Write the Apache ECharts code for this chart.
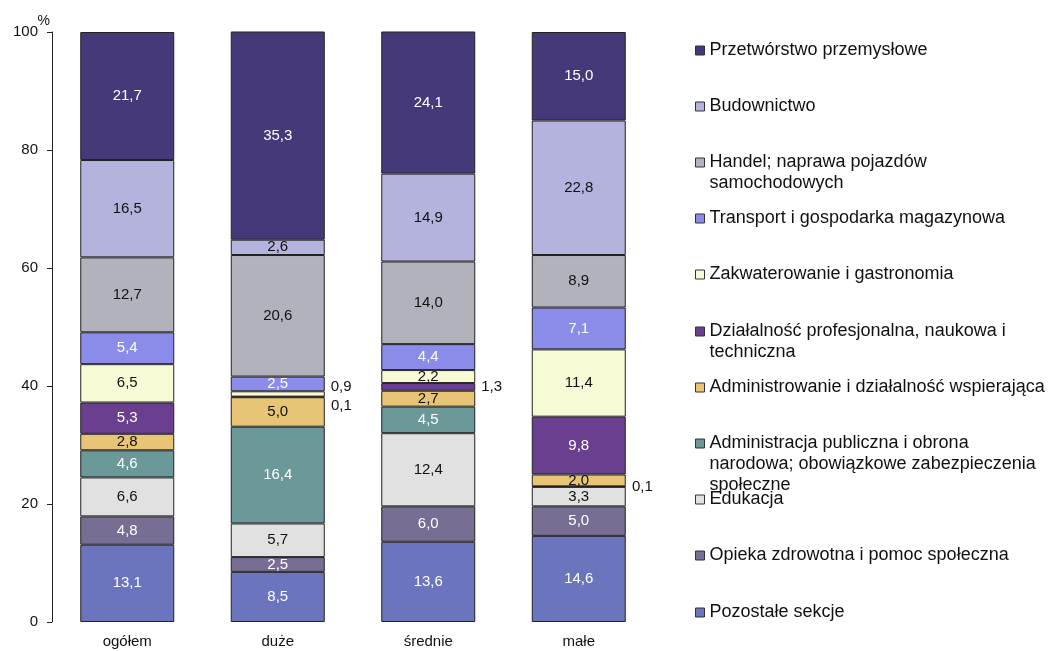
<!DOCTYPE html>
<html>
<head>
<meta charset="utf-8">
<script src="https://cdn.jsdelivr.net/npm/echarts@6/dist/echarts.min.js"></script>
<style>
  html, body { margin: 0; padding: 0; background: #fff; }
  #chart { width: 1051px; height: 651px; }
</style>
</head>
<body>
<div id="chart"></div>
<script>
const categories = ["ogółem", "duże", "średnie", "małe"]

// sections, bottom of the stack first
const sectionNames = [
  "Pozostałe sekcje",
  "Opieka zdrowotna i pomoc społeczna",
  "Edukacja",
  "Administracja publiczna i obrona\nnarodowa; obowiązkowe zabezpieczenia\nspołeczne",
  "Administrowanie i działalność wspierająca",
  "Działalność profesjonalna, naukowa i\ntechniczna",
  "Zakwaterowanie i gastronomia",
  "Transport i gospodarka magazynowa",
  "Handel; naprawa pojazdów\nsamochodowych",
  "Budownictwo",
  "Przetwórstwo przemysłowe",
]

const pozostale = [13.1, 8.5, 13.6, 14.6]
const opieka = [4.8, 2.5, 6.0, 5.0]
const edukacja = [6.6, 5.7, 12.4, 3.3]
const administracja = [4.6, 16.4, 4.5, 0.1]
const administrowanie = [2.8, 5.0, 2.7, 2.0]
const dzialalnosc = [5.3, 0.1, 1.3, 9.8]
const zakwaterowanie = [6.5, 0.9, 2.2, 11.4]
const transport = [5.4, 2.5, 4.4, 7.1]
const handel = [12.7, 20.6, 14.0, 8.9]
const budownictwo = [16.5, 2.6, 14.9, 22.8]
const przetworstwo = [21.7, 35.3, 24.1, 15.0]

const values = [pozostale, opieka, edukacja, administracja, administrowanie,
  dzialalnosc, zakwaterowanie, transport, handel, budownictwo, przetworstwo]

const colors = ["#6b75bd", "#786e93", "#e1e1e1", "#6b9898", "#e8c476",
  "#6b3f8f", "#f7fbd5", "#8b8bea", "#b2b2bc", "#b3b3dd", "#46397a"]
const labelColors = ["#fff", "#fff", "#111", "#fff", "#111",
  "#fff", "#111", "#fff", "#111", "#111", "#fff"]

const font = "'Liberation Sans', Arial, sans-serif"
const fmt = (v) => v.toFixed(1).replace(".", ",")

// tiny segments get their label outside, to the right of the bar
const itemLabel = (si, ci) => {
  const v = values[si][ci]
  if (v >= 2) return undefined
  const below = si > 0 ? values[si - 1][ci] : 99
  const above = si < values.length - 1 ? values[si + 1][ci] : 99
  let dy = 0
  if (above < 2) dy = 9
  if (below < 2) dy = -7
  return { position: "right", distance: 6, color: "#111", offset: [0, dy] }
}

const chart = echarts.init(document.getElementById("chart"))

const legendOrder = sectionNames.slice().reverse()
const lineH = 21

const option = {
  animation: false,
  textStyle: { fontFamily: font },
  grid: { left: 52, right: 397, top: 32, bottom: 29 },
  xAxis: {
    type: "category",
    data: categories,
    axisLine: { show: false },
    axisTick: { show: false },
    axisLabel: { fontSize: 15, color: "#111", margin: 12, fontFamily: font },
  },
  yAxis: {
    type: "value",
    min: 0,
    max: 100,
    interval: 20,
    name: "%",
    nameLocation: "end",
    nameGap: 11,
    nameMoveOverlap: false,
    nameTextStyle: {
      fontSize: 14, color: "#111", align: "right", verticalAlign: "middle",
      padding: [0, 2, 0, 0], fontFamily: font,
    },
    axisLine: { show: true, lineStyle: { color: "#222" } },
    axisTick: { show: true, inside: false, length: 5, lineStyle: { color: "#222" } },
    axisLabel: { fontSize: 15, color: "#111", margin: 14, fontFamily: font },
    splitLine: { show: false },
  },
  // one legend per entry so the entries keep an even pitch, icon level with the first line
  legend: legendOrder.map((name, i) => {
    const lines = name.split("\n").length
    return {
      data: [name],
      orient: "vertical",
      left: 695,
      top: Math.round(50 + i * 56.2 - (2 * lines - 1) * lineH / 2),
      padding: 0,
      itemGap: 0,
      itemWidth: 9,
      itemHeight: 9,
      icon: "rect",
      selectedMode: false,
      itemStyle: { borderColor: "#333", borderWidth: 1 },
      formatter: (n) => " \n".repeat(lines - 1) + n,
      textStyle: { fontSize: 18, lineHeight: lineH, color: "#111", fontFamily: font },
    }
  }),
  series: sectionNames.map((name, si) => ({
    name: name,
    type: "bar",
    stack: "total",
    barWidth: 94,
    itemStyle: { color: colors[si], borderColor: "#222", borderWidth: 1 },
    label: {
      show: true,
      position: "inside",
      color: labelColors[si],
      fontSize: 15,
      fontFamily: font,
      formatter: (p) => fmt(p.value),
    },
    data: values[si].map((v, ci) => {
      const lab = itemLabel(si, ci)
      return lab ? { value: v, label: lab } : v
    }),
  })),
}

chart.setOption(option)
</script>
</body>
</html>
